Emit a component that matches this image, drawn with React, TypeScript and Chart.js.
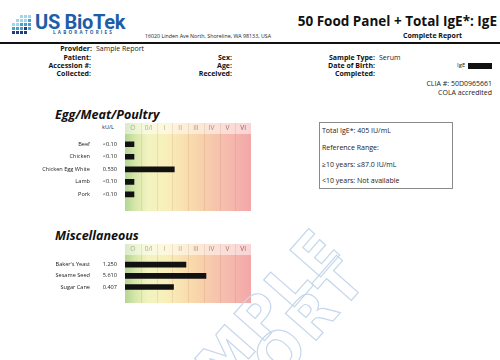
import React, { useEffect, useRef } from "react";
import { Chart, registerables } from "chart.js";

Chart.register(...registerables);

// ---- data ----
const classLabels = ["O", "0/I", "I", "II", "III", "IV", "V", "VI"];

const eggFoods = ["Beef", "Chicken", "Chicken Egg White", "Lamb", "Pork"];
const eggResults = ["<0.10", "<0.10", "0.530", "<0.10", "<0.10"];
const eggLevels = [0.57, 0.57, 3.13, 0.57, 0.57];

const miscFoods = ["Baker's Yeast", "Sesame Seed", "Sugar Cane"];
const miscResults = ["1.250", "5.610", "0.407"];
const miscLevels = [3.87, 5.14, 3.08];

// ---- styles ----
const SANS = "'Open Sans', 'Noto Sans', sans-serif";
const classColors = ["#a3b08e", "#b0ab8a", "#b8a88a", "#b9a08a", "#b09080", "#a8857e", "#a07476", "#9a5a62"];

const bandPlugin = {
  id: "classBands",
  beforeDraw(chart: any) {
    const { ctx, chartArea } = chart;
    const xs = chart.scales.x;
    const left = chartArea.left;
    const right = chartArea.right;
    const bandTop = xs.top;
    const bandBottom = bandTop + 11;
    const gridBottom = chart.height - 1;
    const g = ctx.createLinearGradient(left, 0, right, 0);
    g.addColorStop(0, "#b3d594");
    g.addColorStop(0.08, "#d6e7a8");
    g.addColorStop(0.18, "#f2f3c0");
    g.addColorStop(0.32, "#f8f0bb");
    g.addColorStop(0.45, "#f9e2b2");
    g.addColorStop(0.58, "#f8d4aa");
    g.addColorStop(0.72, "#f6c4ad");
    g.addColorStop(0.86, "#f5b6ad");
    g.addColorStop(1, "#f3a7a8");
    ctx.save();
    ctx.fillStyle = g;
    ctx.fillRect(left, bandTop, right - left, gridBottom - bandTop);
    ctx.fillStyle = "rgba(255,255,255,0.5)";
    ctx.fillRect(left, bandTop, right - left, bandBottom - bandTop);
    ctx.strokeStyle = "rgba(160,100,80,0.14)";
    ctx.lineWidth = 1;
    for (let i = 1; i < classLabels.length; i++) {
      const x = Math.round(xs.getPixelForValue(i)) + 0.5;
      ctx.beginPath();
      ctx.moveTo(x, bandTop);
      ctx.lineTo(x, gridBottom);
      ctx.stroke();
    }
    ctx.restore();
  },
};

function ClassChart(props: { foods: string[]; results: string[]; levels: number[]; top: number; height: number; padBottom: number }) {
  const ref = useRef<HTMLCanvasElement>(null);
  useEffect(() => {
    const small = { family: SANS, size: 5.6 };
    const chart = new Chart(ref.current as HTMLCanvasElement, {
      type: "bar",
      data: {
        labels: props.foods,
        datasets: [{ data: props.levels, backgroundColor: "#111111", barThickness: 5, borderWidth: 0 }],
      },
      options: {
        indexAxis: "y",
        responsive: false,
        animation: false,
        layout: { padding: { left: 0, right: 9, top: 0, bottom: props.padBottom } },
        plugins: { legend: { display: false }, tooltip: { enabled: false } },
        scales: {
          x: {
            type: "linear",
            position: "top",
            min: 0,
            max: 8,
            grid: { display: false, drawTicks: false },
            border: { display: false },
            afterBuildTicks: (s: any) => {
              s.ticks = classLabels.map((_, i) => ({ value: i + 0.5 }));
            },
            afterFit: (s: any) => {
              s.height = 15;
            },
            ticks: {
              autoSkip: false,
              maxRotation: 0,
              padding: 6,
              font: { family: SANS, size: 6.5 },
              color: (c: any) => classColors[c.index] || "#999",
              callback: (_v: any, i: number) => classLabels[i],
            },
          },
          y: {
            position: "left",
            weight: 1,
            grid: { display: false, drawTicks: false },
            border: { display: false },
            afterFit: (s: any) => {
              s.width = 92;
            },
            ticks: { padding: 2, font: small, color: "#222" },
          },
          y2: {
            type: "category",
            labels: props.results,
            position: "left",
            weight: 0,
            offset: true,
            grid: { display: false, drawTicks: false },
            border: { display: false },
            afterFit: (s: any) => {
              s.width = 33;
            },
            ticks: { padding: 8, font: small, color: "#222" },
          },
        },
      } as any,
      plugins: [bandPlugin],
    });
    return () => chart.destroy();
  }, []);
  return (
    <canvas
      ref={ref}
      width={260}
      height={props.height}
      style={{ position: "absolute", left: 0, top: props.top, width: 260, height: props.height }}
    />
  );
}

type TxtOpts = {
  left?: number;
  right?: number;
  cy: number;
  size?: number;
  weight?: number;
  italic?: boolean;
  color?: string;
  family?: string;
  spacing?: number;
};

function Txt({ o, children }: { o: TxtOpts; children: React.ReactNode }) {
  const size = o.size || 7;
  const style: React.CSSProperties = {
    position: "absolute",
    top: o.cy - size * 0.6,
    fontSize: size,
    lineHeight: `${size * 1.2}px`,
    fontFamily: o.family || SANS,
    fontWeight: o.weight || 400,
    fontStyle: o.italic ? "italic" : "normal",
    color: o.color || "#222",
    whiteSpace: "nowrap",
    letterSpacing: o.spacing || 0,
  };
  if (o.right !== undefined) {
    style.right = 500 - o.right;
    style.textAlign = "right";
  } else {
    style.left = o.left;
  }
  return <div style={style}>{children}</div>;
}

function Logo() {
  const rows = [
    [0, 0, 1, 1, 1],
    [0, 1, 1, 1, 2],
    [1, 1, 2, 2, 2],
    [2, 2, 2, 3, 2],
    [3, 3, 3, 3, 0],
  ];
  const cols = ["transparent", "#9fd6ec", "#4a9fd0", "#1c3f7c"];
  const cells: React.ReactNode[] = [];
  rows.forEach((r, i) =>
    r.forEach((c, j) => {
      if (!c) return;
      cells.push(
        <div
          key={`${i}-${j}`}
          style={{ position: "absolute", left: 12 + j * 4, top: 15 + i * 4, width: 3, height: 3, background: cols[c] }}
        />
      );
    })
  );
  return <>{cells}</>;
}

export default function App() {
  const lab = { size: 7, weight: 700, color: "#111" };
  return (
    <div
      style={{
        position: "fixed",
        left: 0,
        top: 0,
        width: 500,
        height: 360,
        background: "#fff",
        overflow: "hidden",
        fontFamily: SANS,
      }}
    >
      <Logo />
      <Txt o={{ left: 35, cy: 22, size: 20, weight: 700, color: "#1d5ea8", family: "Roboto, sans-serif", spacing: -0.3 }}>
        US BioTek
      </Txt>
      <Txt o={{ left: 53, cy: 33, size: 4.6, weight: 700, color: "#1d5ea8", spacing: 2.2 }}>LABORATORIES</Txt>
      <Txt o={{ left: 145, cy: 36.5, size: 5.3, color: "#222" }}>16020 Linden Ave North, Shoreline, WA 98133, USA</Txt>
      <Txt o={{ right: 497, cy: 21, size: 13.5, weight: 700, color: "#111" }}>50 Food Panel + Total IgE*: IgE</Txt>
      <Txt o={{ left: 403, cy: 36, size: 7, weight: 700, color: "#111" }}>Complete Report</Txt>
      <div style={{ position: "absolute", left: 0, top: 42, width: 500, height: 2, background: "#111" }} />

      <Txt o={{ right: 92, cy: 49.5, ...lab }}>Provider:</Txt>
      <Txt o={{ left: 96, cy: 49.5, size: 7, color: "#222" }}>Sample Report</Txt>
      <Txt o={{ right: 91, cy: 58.5, ...lab }}>Patient:</Txt>
      <Txt o={{ right: 91, cy: 66.3, ...lab }}>Accession #:</Txt>
      <Txt o={{ right: 91, cy: 74, ...lab }}>Collected:</Txt>
      <Txt o={{ right: 232, cy: 58.5, ...lab }}>Sex:</Txt>
      <Txt o={{ right: 232, cy: 66.3, ...lab }}>Age:</Txt>
      <Txt o={{ right: 232, cy: 74, ...lab }}>Received:</Txt>
      <Txt o={{ right: 375, cy: 58.5, ...lab }}>Sample Type:</Txt>
      <Txt o={{ left: 379, cy: 58.5, size: 7, color: "#222" }}>Serum</Txt>
      <Txt o={{ right: 375, cy: 66.3, ...lab }}>Date of Birth:</Txt>
      <Txt o={{ right: 375, cy: 74, ...lab }}>Completed:</Txt>
      <Txt o={{ left: 457, cy: 66, size: 6, color: "#222" }}>IgE</Txt>
      <div style={{ position: "absolute", left: 468, top: 63, width: 24, height: 6, background: "#111" }} />
      <Txt o={{ right: 492, cy: 84, size: 7, color: "#222" }}>CLIA #: 50D0965661</Txt>
      <Txt o={{ right: 492, cy: 93.5, size: 7, color: "#222" }}>COLA accredited</Txt>

      <Txt o={{ left: 55, cy: 114.5, size: 12.5, weight: 700, italic: true, color: "#111" }}>Egg/Meat/Poultry</Txt>
      <Txt o={{ left: 102, cy: 127.5, size: 5.6, color: "#222" }}>kU/L</Txt>
      <ClassChart foods={eggFoods} results={eggResults} levels={eggLevels} top={123} height={89} padBottom={7} />

      <Txt o={{ left: 55, cy: 235, size: 12.5, weight: 700, italic: true, color: "#111" }}>Miscellaneous</Txt>
      <ClassChart foods={miscFoods} results={miscResults} levels={miscLevels} top={244} height={60} padBottom={4.5} />

      <div
        style={{
          position: "absolute",
          left: 319,
          top: 122,
          width: 134,
          height: 67,
          border: "1px solid #8a8a8a",
          boxSizing: "border-box",
        }}
      />
      <Txt o={{ left: 322, cy: 131, size: 7 }}>Total IgE*: 405 IU/mL</Txt>
      <Txt o={{ left: 322, cy: 148, size: 7 }}>Reference Range:</Txt>
      <Txt o={{ left: 322, cy: 165, size: 7 }}>≥10 years: ≤87.0 IU/mL</Txt>
      <Txt o={{ left: 322, cy: 181, size: 7 }}>&lt;10 years: Not available</Txt>

      <svg
        width={500}
        height={360}
        style={{ position: "absolute", left: 0, top: 0, pointerEvents: "none" }}
      >
        <g fontFamily="'DejaVu Sans', sans-serif" fontWeight={700} fontSize={56} fill="none" stroke="#c6d7ec" strokeWidth={1.2}>
          <text textAnchor="end" letterSpacing={4} transform="translate(345,249) rotate(-48.8)">
            SAMPLE
          </text>
          <text textAnchor="end" letterSpacing={4} transform="translate(370,279) rotate(-48.8)">
            REPORT
          </text>
        </g>
      </svg>
    </div>
  );
}
